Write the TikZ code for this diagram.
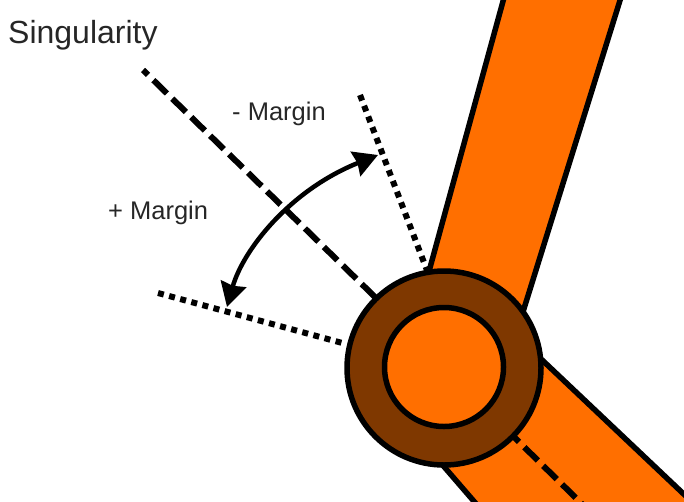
\documentclass[tikz,border=0pt]{standalone}
\usepackage{fontspec}
\setmainfont{Liberation Sans}
\usepackage{xcolor}
\usetikzlibrary{arrows.meta,positioning,calc}
\definecolor{ink}{HTML}{000000}
\definecolor{armfill}{HTML}{FF6F00}
\definecolor{ringfill}{HTML}{7F3800}
\tikzset{
  arm/.style={fill=armfill,draw=none},
  edge/.style={draw=ink,line width=5.5pt},
  ring/.style={circle,draw=ink,line width=5.5pt,fill=ringfill,minimum size=194pt,inner sep=0pt},
  hub/.style={circle,draw=ink,line width=5.5pt,fill=armfill,minimum size=119pt,inner sep=0pt},
  axisline/.style={draw=ink,line width=6pt,dash pattern=on 19pt off 7.5pt,dash phase=12pt},
  limit/.style={draw=ink,line width=6pt,dash pattern=on 6pt off 5.5pt},
  arr/.style={{Stealth[length=24pt,width=26pt,inset=2pt]}-{Stealth[length=24pt,width=26pt,inset=2pt]},draw=ink,line width=4.5pt},
  bigtext/.style={inner sep=0pt,anchor=base west,font=\fontsize{32}{36}\selectfont,text=black!85},
  tag/.style={inner sep=0pt,anchor=base west,font=\fontsize{25.5}{30}\selectfont,text=black!85}
}
\begin{document}
\begin{tikzpicture}[x=1pt,y=-1pt]
\useasboundingbox (0,0) rectangle (684,501);
% upper arm
\coordinate (upperL) at (505,-6);
\coordinate (upperR) at (622,-6);
\coordinate (upperLend) at (428,275);
\coordinate (upperRend) at (522,315);
\fill[arm] (upperL) -- (upperR) -- (upperRend) -- (upperLend) -- cycle;
\draw[edge] (upperL) -- (upperLend);
\draw[edge] (upperR) -- (upperRend);
% lower arm
\coordinate (lowerT) at (540,358);
\coordinate (lowerTend) at (690,500);
\coordinate (lowerB) at (440,462);
\coordinate (lowerBend) at (478,506);
\fill[arm] (lowerT) -- (lowerTend) -- (690,506) -- (lowerBend) -- (lowerB) -- cycle;
\draw[edge] (lowerT) -- (lowerTend);
\draw[edge] (lowerB) -- (lowerBend);
% reference lines
\coordinate (singStart) at (143,70);
\coordinate (singEnd) at (376,298);
\coordinate (armStart) at (514,437);
\coordinate (armEnd) at (582,504);
\coordinate (minusStart) at (360,95);
\coordinate (minusEnd) at (428,273);
\coordinate (plusStart) at (158,293);
\coordinate (plusEnd) at (346,344);
\draw[axisline] (singStart) -- (singEnd);
\draw[axisline] (armStart) -- (armEnd);
\draw[limit] (minusStart) -- (minusEnd);
\draw[limit] (plusStart) -- (plusEnd);
% joint
\node[ring] (joint) at (444,368) {};
\node[hub] (pin) at (444,367) {};
% margin arc
\coordinate (arcTop) at (378,155);
\coordinate (arcBottom) at (227,307);
\draw[arr] (arcBottom) .. controls (243,250) and (290,190) .. (arcTop);
% labels
\node[bigtext] (singularity) at (8,43) {Singularity};
\node[tag] (minusMargin) at (232,120) {- Margin};
\node[tag] (plusMargin) at (108,219) {+ Margin};
\end{tikzpicture}
\end{document}
